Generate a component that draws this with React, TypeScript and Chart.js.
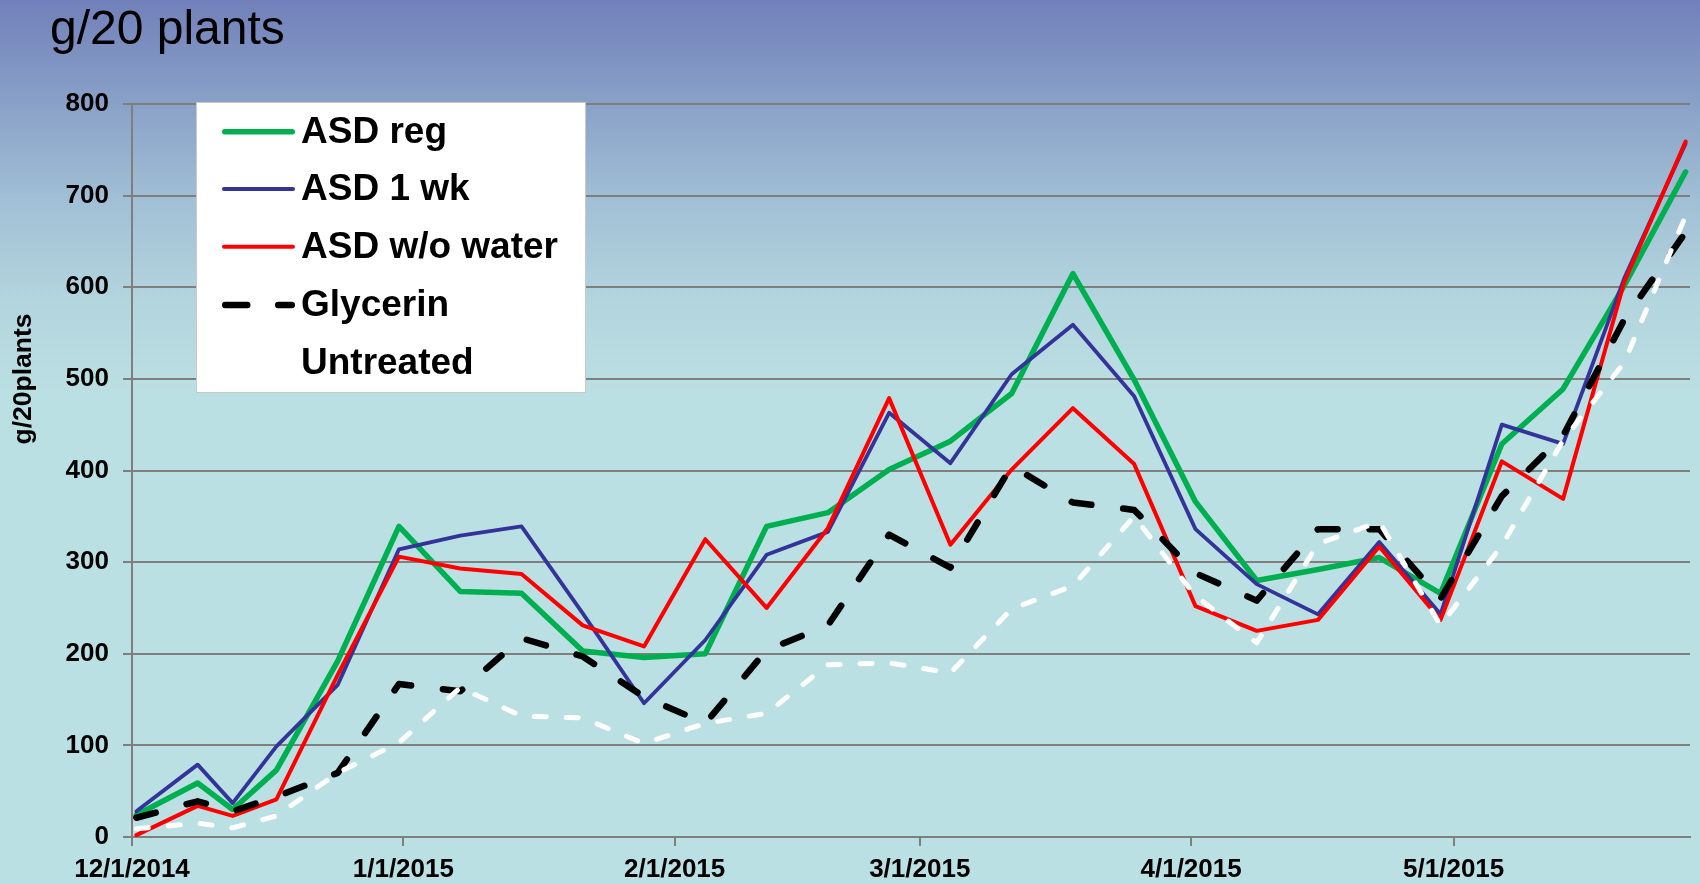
import React, { useEffect, useRef } from 'react';
import { Chart, registerables } from 'chart.js';

Chart.register(...registerables);

// Sampling dates as day offsets from 12/1/2014
const sampleDays = [0, 7, 11, 16, 23, 30, 37, 44, 51, 58, 65, 72, 79, 86, 93, 100, 107, 114, 121, 128, 135, 142, 149, 156, 163, 170, 177];

const asdReg = [24, 59, 30, 73, 192, 339, 268, 266, 203, 196, 200, 339, 354, 401, 432, 484, 615, 499, 366, 280, 292, 305, 266, 429, 489, 602, 726];
const asd1wk = [28, 79, 37, 99, 166, 314, 329, 339, 244, 146, 215, 308, 333, 463, 408, 505, 559, 481, 336, 276, 243, 322, 243, 450, 429, 610, 757];
const asdNoWater = [2, 34, 23, 41, 177, 306, 293, 287, 231, 208, 325, 250, 337, 479, 319, 401, 468, 407, 252, 225, 237, 317, 237, 410, 369, 606, 759];
const glycerin = [21, 39, 28, 44, 70, 167, 159, 217, 197, 153, 124, 204, 231, 330, 294, 405, 365, 357, 288, 258, 336, 336, 260, 372, 438, 565, 660];
const untreated = [9, 15, 10, 23, 70, 103, 163, 132, 130, 102, 124, 135, 188, 190, 179, 249, 274, 350, 263, 212, 320, 344, 231, 318, 433, 518, 678];

const seriesLabels = ['ASD reg', 'ASD 1 wk', 'ASD w/o water', 'Glycerin', 'Untreated'];

const xTickDays = [0, 31, 62, 90, 121, 151];
const xTickLabels = ['12/1/2014', '1/1/2015', '2/1/2015', '3/1/2015', '4/1/2015', '5/1/2015'];
const xAxisEnd = 178;

const yMin = 0;
const yMax = 800;
const yStep = 100;

const titleText = 'g/20 plants';
const yTitleText = 'g/20plants';

const FONT = '"Liberation Sans", Arial, Helvetica, sans-serif';

const styles = [
  { color: '#00b050', width: 5.5, dash: [] as number[] },
  { color: '#333399', width: 3.8, dash: [] as number[] },
  { color: '#ff0000', width: 4, dash: [] as number[] },
  { color: '#000000', width: 6.5, dash: [20, 32] },
  { color: '#ffffff', width: 5, dash: [12, 20] },
];

export default function App() {
  const ref = useRef<HTMLCanvasElement | null>(null);

  useEffect(() => {
    const canvas = ref.current;
    if (!canvas) return;
    const values = [asdReg, asd1wk, asdNoWater, glycerin, untreated];
    const datasets = values.map((vals, i) => ({
      label: seriesLabels[i],
      data: vals.map((v, j) => ({ x: sampleDays[j] + 0.5, y: v })),
      borderColor: styles[i].color,
      borderWidth: styles[i].width,
      borderDash: styles[i].dash,
      borderCapStyle: 'round' as const,
      borderJoinStyle: 'round' as const,
      pointRadius: 0,
      pointHoverRadius: 0,
      tension: 0,
      fill: false,
      order: 4 - i,
    }));

    const bgPlugin = {
      id: 'bgGradient',
      beforeDraw(chart: any) {
        const { ctx, width, height } = chart;
        const g = ctx.createLinearGradient(0, 0, 0, height);
        g.addColorStop(0, '#7180ba');
        g.addColorStop(0.113, '#88a0c7');
        g.addColorStop(0.226, '#a1bfd5');
        g.addColorStop(0.34, '#b3d5de');
        g.addColorStop(0.45, '#bbe0e3');
        g.addColorStop(1, '#bbe0e3');
        ctx.save();
        ctx.fillStyle = g;
        ctx.fillRect(0, 0, width, height);
        ctx.restore();
      },
    };

    const overlayPlugin = {
      id: 'overlay',
      afterDraw(chart: any) {
        const { ctx } = chart;
        ctx.save();
        // Title
        ctx.fillStyle = '#000';
        ctx.font = `48px ${FONT}`;
        ctx.textAlign = 'left';
        ctx.textBaseline = 'alphabetic';
        ctx.fillText(titleText, 50, 44);

        // Y axis title
        ctx.save();
        ctx.translate(24, 379);
        ctx.rotate(-Math.PI / 2);
        ctx.font = `bold 26.5px ${FONT}`;
        ctx.textAlign = 'center';
        ctx.textBaseline = 'middle';
        ctx.fillText(yTitleText, 0, 0);
        ctx.restore();

        // Legend
        const bx = 196, by = 102, bw = 390, bh = 291;
        ctx.fillStyle = '#ffffff';
        ctx.fillRect(bx, by, bw, bh);
        ctx.strokeStyle = '#c8c8c8';
        ctx.lineWidth = 1;
        ctx.strokeRect(bx + 0.5, by + 0.5, bw - 1, bh - 1);
        const ys = [131.7, 189, 246.7, 305, 362.7];
        chart.data.datasets.forEach((ds: any, i: number) => {
          const y = ys[i];
          ctx.save();
          ctx.strokeStyle = ds.borderColor;
          ctx.lineWidth = ds.borderWidth;
          ctx.lineCap = 'round';
          const dash = ds.borderDash || [];
          if (dash.length) {
            ctx.setLineDash(i === 3 ? [22, 31] : dash);
          }
          ctx.beginPath();
          const x0 = 222 + ds.borderWidth / 2;
          const x1 = 295 - ds.borderWidth / 2;
          ctx.moveTo(x0, y);
          ctx.lineTo(x1, y);
          ctx.stroke();
          ctx.restore();
          ctx.fillStyle = '#000';
          ctx.font = `bold 37px ${FONT}`;
          ctx.textAlign = 'left';
          ctx.textBaseline = 'middle';
          ctx.fillText(ds.label, 301, y + 1);
        });
        ctx.restore();
      },
    };

    const chart = new Chart(canvas, {
      type: 'line',
      data: { datasets },
      options: {
        animation: false,
        responsive: false,
        maintainAspectRatio: false,
        devicePixelRatio: 1,
        parsing: false as any,
        layout: { padding: { top: 104, right: 10, bottom: 0, left: 0 } },
        plugins: {
          legend: { display: false },
          tooltip: { enabled: false },
          title: { display: false },
        },
        events: [],
        scales: {
          x: {
            type: 'linear',
            min: 0,
            max: xAxisEnd,
            afterBuildTicks: (scale: any) => {
              scale.ticks = xTickDays.map((v) => ({ value: v }));
            },
            afterFit: (scale: any) => {
              scale.height = 47;
            },
            ticks: {
              autoSkip: false,
              maxRotation: 0,
              minRotation: 0,
              padding: 8,
              color: '#000',
              font: { family: FONT, size: 26, weight: 'bold' },
              callback: (v: any) => {
                const idx = xTickDays.indexOf(Number(v));
                return idx >= 0 ? xTickLabels[idx] : '';
              },
            },
            grid: {
              drawOnChartArea: false,
              drawTicks: true,
              tickLength: 9,
              color: '#7f7f7f',
              lineWidth: 2,
            },
            border: { display: true, color: '#7f7f7f', width: 2 },
          },
          y: {
            type: 'linear',
            min: yMin,
            max: yMax,
            afterFit: (scale: any) => {
              scale.width = 132;
            },
            ticks: {
              stepSize: yStep,
              padding: 14,
              color: '#000',
              font: { family: FONT, size: 26, weight: 'bold' },
            },
            grid: {
              color: '#7f7f7f',
              lineWidth: 2,
              tickLength: 9,
            },
            border: { display: true, color: '#7f7f7f', width: 2 },
          },
        },
      } as any,
      plugins: [bgPlugin, overlayPlugin],
    });

    return () => {
      chart.destroy();
    };
  }, []);

  return (
    <div style={{ position: 'fixed', left: 0, top: 0, width: 1700, height: 884, overflow: 'hidden' }}>
      <canvas ref={ref} width={1700} height={884} style={{ display: 'block', width: 1700, height: 884 }} />
    </div>
  );
}
